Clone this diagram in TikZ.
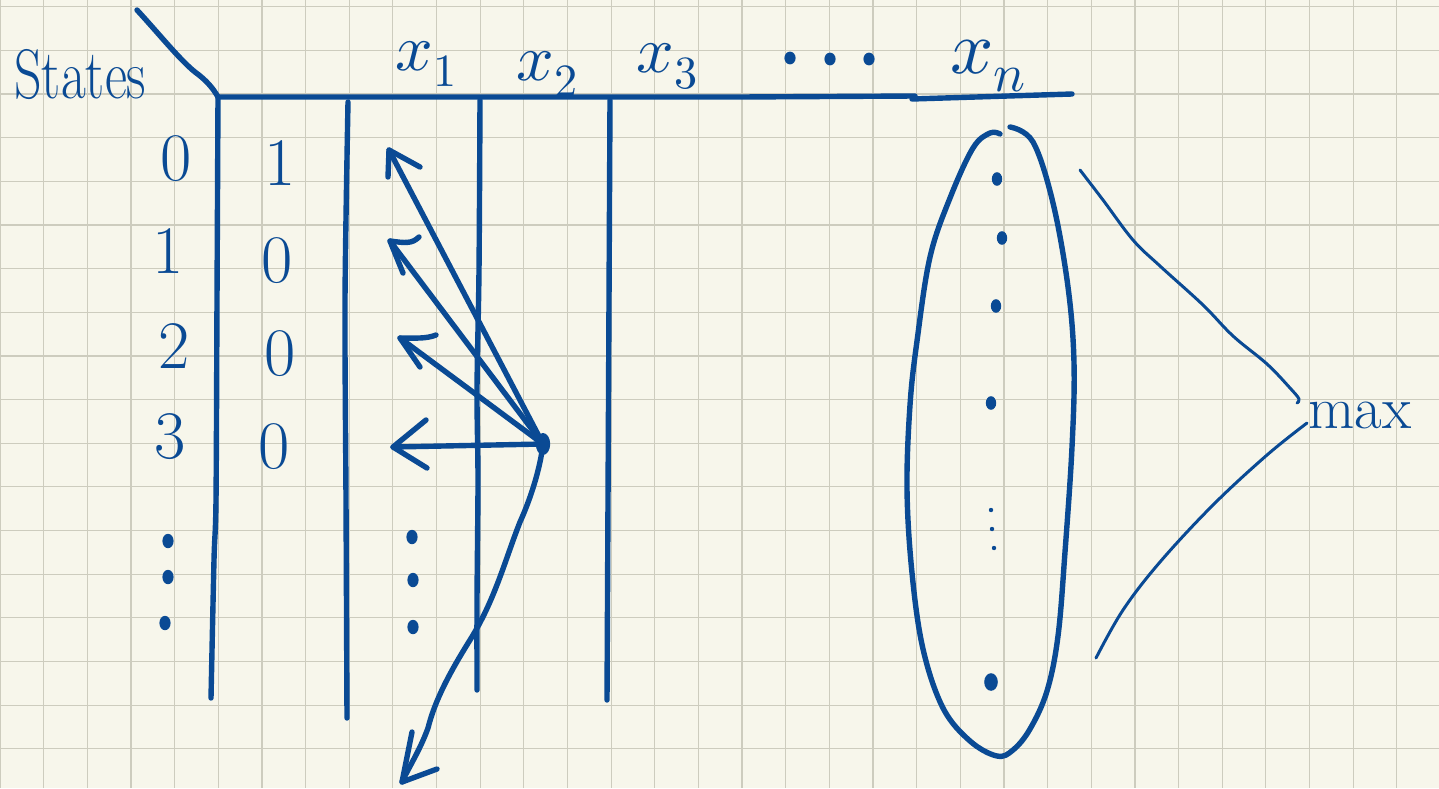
\documentclass[tikz,border=0pt]{standalone}
\usepackage{fontspec}
\usepackage{unicode-math}
\usetikzlibrary{calc}
\definecolor{bgc}{RGB}{247,246,235}
\definecolor{gridc}{RGB}{205,204,190}
\definecolor{inkc}{RGB}{10,74,148}
\tikzset{
  ink/.style={draw=inkc, line width=2.7pt, line cap=round, line join=round},
  thinink/.style={draw=inkc, line width=1.5pt, line cap=round, line join=round},
  digit/.style={text=inkc, inner sep=0pt, anchor=base, font=\fontsize{34}{36}\selectfont},
  hdr/.style={text=inkc, inner sep=0pt, anchor=base west, font=\fontsize{33}{36}\selectfont},
  word/.style={text=inkc, inner sep=0pt, anchor=base west},
  dotmark/.style={fill=inkc},
}
\begin{document}
\begin{tikzpicture}[x=0.5pt,y=-0.5pt]
\useasboundingbox (0,0) rectangle (1439,788);
\fill[bgc] (0,0) rectangle (1439,788);
% grid paper
\foreach \k in {0,...,32} \draw[gridc, line width=0.6pt] ({43.65*\k},0) -- ({43.65*\k},788);
\foreach \k in {0,...,17} \draw[gridc, line width=0.6pt] (0,{6.7+43.65*\k}) -- (1439,{6.7+43.65*\k});

% corner and header line
\coordinate (corner) at (218,97);
\coordinate (slash) at (137,10);
\draw[ink] (slash) .. controls (160,35) and (180,60) .. (195,72) .. controls (206,80) and (213,88) .. (corner);
\draw[ink] (corner) -- (610,97) -- (740,97) -- (915,96);
\draw[ink] (912,99) -- (1072,94);

% vertical lines
\draw[ink] plot[smooth, tension=0.5] coordinates {(218,97) (217,300) (216,500) (214,560) (211,698)};
\draw[ink] plot[smooth, tension=0.5] coordinates {(348,102) (345,300) (346,500) (347,718)};
\draw[ink] plot[smooth, tension=0.5] coordinates {(480,100) (479,270) (477,390) (478,480) (477,600) (477,690)};
\draw[ink] plot[smooth, tension=0.5] coordinates {(610,100) (609,300) (608,500) (607,700)};

% States label
\node[word, font=\fontsize{27}{30}\selectfont] (states) at (14,98) {\scalebox{1}[1.3]{States}};

% column headers
\node[hdr] (h1) at (395,70) {$x_1$};
\node[hdr] (h2) at (516,80) {$x_2$};
\node[hdr] (h3) at (636,72) {$x_3$};
\node[hdr, font=\fontsize{38}{40}\selectfont] (hn) at (950,73) {$x_n$};
\coordinate (hd1) at (790,58);
\coordinate (hd2) at (830,59);
\coordinate (hd3) at (869,59);
\foreach \d in {hd1,hd2,hd3} \fill[dotmark] (\d) ellipse [x radius=2.8pt, y radius=3.2pt];

% row labels
\node[digit] (r0) at (176,180) {0};
\node[digit] (r1) at (168,273) {1};
\node[digit] (r2) at (174,368) {2};
\node[digit] (r3) at (170,458) {3};
\coordinate (rd1) at (168,541);
\coordinate (rd2) at (168,577);
\coordinate (rd3) at (165,623);
\foreach \d in {rd1,rd2,rd3} \fill[dotmark] (\d) ellipse [x radius=2.8pt, y radius=3.6pt];

% first column values
\node[digit] (v0) at (280,185) {1};
\node[digit] (v1) at (277,282) {0};
\node[digit] (v2) at (280,375) {0};
\node[digit] (v3) at (274,468) {0};

% column x1 dots
\coordinate (cd1) at (412,537);
\coordinate (cd2) at (413,580);
\coordinate (cd3) at (413,627);
\foreach \d in {cd1,cd2,cd3} \fill[dotmark] (\d) ellipse [x radius=2.8pt, y radius=3.6pt];

% source dot and arrows
\coordinate (src) at (543,444);
\coordinate (t1) at (389,150);
\coordinate (t2) at (390,241);
\coordinate (t3) at (400,338);
\coordinate (t4) at (393,447);
\coordinate (t5) at (402,782);
\draw[ink] (src) -- (t1);
\draw[ink] (src) -- (t2);
\draw[ink] (src) -- (t3);
\draw[ink] (src) -- (t4);
\draw[ink] (src) .. controls (540,470) and (530,500) .. (520,522)
  .. controls (505,560) and (495,600) .. (470,640)
  .. controls (450,672) and (435,700) .. (428,728)
  .. controls (420,750) and (410,765) .. (t5);
% arrow heads
\draw[ink] (388,177) -- (t1) -- (420,167);
\draw[ink] (403,273) -- (t2) .. controls (405,243) and (412,244) .. (419,237);
\draw[ink] (420,367) -- (t3) .. controls (415,338) and (426,339) .. (436,335);
\draw[ink] (426,420) -- (t4) -- (427,468);
\draw[ink] (412,732) -- (t5) -- (437,769);
\fill[dotmark] (src) ellipse [x radius=3.6pt, y radius=5.5pt];

% ellipse of the last column
\draw[ink] plot[smooth, tension=0.6] coordinates {(1010,127) (1033,142) (1053,203) (1068,287) (1074,363) (1072,447) (1065,552) (1058,636) (1047,691) (1030,729) (1013,750) (997,756) (970,741) (943,708) (923,649) (912,573) (907,489) (910,405) (917,341) (930,257) (950,198) (973,148) (990,133) (1000,134)};
\coordinate (ed1) at (997,179);
\coordinate (ed2) at (1002,238);
\coordinate (ed3) at (996,306);
\coordinate (ed4) at (991,403);
\coordinate (ed5) at (991,510);
\coordinate (ed6) at (992,529);
\coordinate (ed7) at (994,548);
\coordinate (ed8) at (991,682);
\foreach \d in {ed1,ed2,ed3,ed4} \fill[dotmark] (\d) ellipse [x radius=2.6pt, y radius=3.4pt];
\foreach \d in {ed5,ed6,ed7} \fill[dotmark] (\d) circle [radius=1.1pt];
\fill[dotmark] (ed8) ellipse [x radius=3.4pt, y radius=4.4pt];

% max
\node[word, font=\fontsize{30}{32}\selectfont] (max) at (1308,428) {max};
\draw[thinink] plot[smooth, tension=0.6] coordinates {(1080,170) (1103,200) (1133,240) (1160,266) (1203,305) (1233,336) (1267,364) (1290,388) (1299,399) (1297,403)};
\draw[thinink] plot[smooth, tension=0.6] coordinates {(1307,423) (1267,455) (1213,505) (1160,562) (1123,610) (1096,658)};
\end{tikzpicture}
\end{document}
